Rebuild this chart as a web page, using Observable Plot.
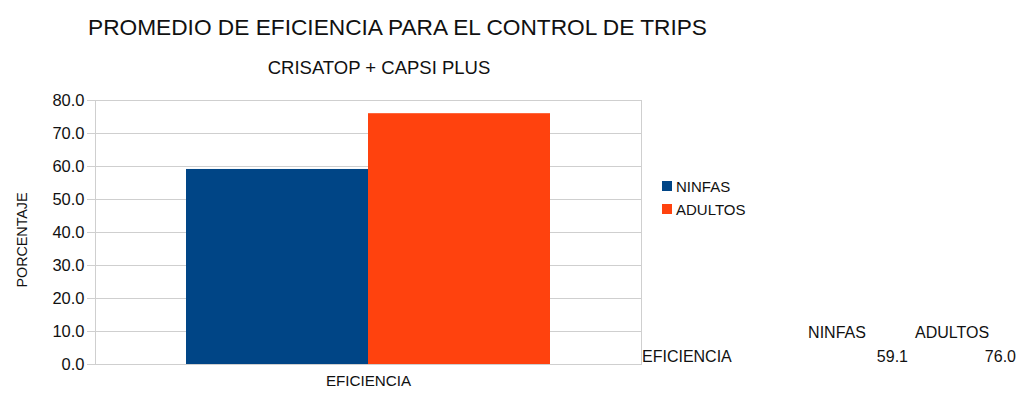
<!DOCTYPE html>
<html>
<head>
<meta charset="utf-8">
<script src="https://cdn.jsdelivr.net/npm/d3@7"></script>
<script src="https://cdn.jsdelivr.net/npm/@observablehq/plot@0.6"></script>
<style>
  html, body { margin: 0; padding: 0; background: #fff; }
  #wrap { position: relative; width: 1024px; height: 396px; overflow: hidden; font-family: "Liberation Sans", Arial, sans-serif; color: #111; }
  .abs { position: absolute; white-space: nowrap; line-height: 1; }
  #title { left: 88px; top: 16px; font-size: 22.7px; }
  #subtitle { left: 0; width: 758px; text-align: center; top: 59px; font-size: 18.5px; }
  #ylabel { left: 22px; top: 240px; font-size: 14.3px; transform: translate(-50%, -50%) rotate(-90deg); }
  #chart { position: absolute; left: 0; top: 90px; }
  .leg { position: absolute; left: 662px; font-size: 15px; display: flex; align-items: center; }
  .leg .sw { width: 10px; height: 10px; margin-right: 4px; }
  .tbl { position: absolute; font-size: 16px; line-height: 1; transform: translateY(-50%); }
</style>
</head>
<body>
<div id="wrap">
  <div id="title" class="abs">PROMEDIO DE EFICIENCIA PARA EL CONTROL DE TRIPS</div>
  <div id="subtitle" class="abs">CRISATOP + CAPSI PLUS</div>
  <div id="ylabel" class="abs">PORCENTAJE</div>
  <div id="chart"></div>
</div>
<script>
const categories = ["EFICIENCIA"];
const series = ["NINFAS", "ADULTOS"];
const values = [59.1, 76.0];
const colors = ["#004586", "#ff420e"];
const yTicks = [0, 10, 20, 30, 40, 50, 60, 70, 80];

const data = series.map((s, i) => ({category: categories[0], series: s, value: values[i]}));

const gridColor = "#cfcfcf";
const chart = Plot.plot({
  width: 1024,
  height: 306,
  marginLeft: 95,
  marginRight: 383,
  marginTop: 10,
  marginBottom: 32,
  style: {fontFamily: "'Liberation Sans', Arial, sans-serif", fontSize: "15px", color: "#111", background: "transparent"},
  x: {domain: series, paddingInner: 0, paddingOuter: 0.5, axis: null},
  y: {domain: [0, 80]},
  color: {domain: series, range: colors},
  marks: [
    Plot.gridY(yTicks, {stroke: gridColor, strokeOpacity: 1}),
    Plot.frame({stroke: gridColor}),
    Plot.axisY({ticks: yTicks, tickFormat: d => d.toFixed(1), tickSize: 8, tickPadding: 3, stroke: gridColor, fill: "#111", label: null, fontSize: 16.5}),
    Plot.barY(data, {x: "series", y: "value", fill: "series", inset: 0}),
    Plot.text(categories, {frameAnchor: "bottom", dy: 21, text: d => d, fontSize: 15.2, fill: "#111"})
  ]
});
document.getElementById("chart").appendChild(chart);

const wrap = document.getElementById("wrap");
// Legend
const legTops = [186, 209];
series.forEach((s, i) => {
  const el = document.createElement("div");
  el.className = "leg";
  el.style.top = (legTops[i] - 8) + "px";
  el.style.height = "16px";
  el.innerHTML = `<span class="sw" style="background:${colors[i]}"></span><span>${s}</span>`;
  wrap.appendChild(el);
});

// Data table
const headCenters = [837, 952];
const valueRights = [908, 1016];
series.forEach((s, i) => {
  const h = document.createElement("div");
  h.className = "tbl";
  h.style.left = headCenters[i] + "px";
  h.style.top = "333px";
  h.style.transform = "translate(-50%, -50%)";
  h.textContent = s;
  wrap.appendChild(h);
  const v = document.createElement("div");
  v.className = "tbl";
  v.style.right = (1024 - valueRights[i]) + "px";
  v.style.top = "357px";
  v.textContent = values[i].toFixed(1);
  wrap.appendChild(v);
});
const rl = document.createElement("div");
rl.className = "tbl";
rl.style.left = "642px";
rl.style.top = "357px";
rl.textContent = categories[0];
wrap.appendChild(rl);
</script>
</body>
</html>
